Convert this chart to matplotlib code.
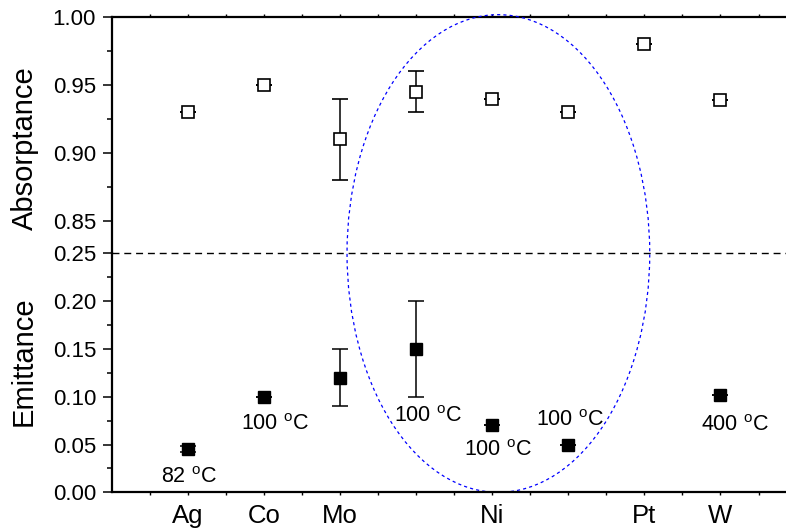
"""Absorptance / emittance broken-axis chart."""

import numpy as np
import matplotlib.pyplot as plt
from matplotlib.patches import Ellipse

plt.rcParams['font.family'] = 'Liberation Sans'
plt.rcParams['mathtext.fontset'] = 'custom'
plt.rcParams['mathtext.rm'] = 'Liberation Sans'

# Data
x_pos = [1, 2, 3, 4, 5, 6, 7, 8]
tick_labels = ['Ag', 'Co', 'Mo', '', 'Ni', '', 'Pt', 'W']
absorptance = [0.93, 0.95, 0.91, 0.945, 0.94, 0.93, 0.98, 0.939]
absorptance_err = [0, 0, 0.03, 0.015, 0, 0, 0, 0]
emittance = [0.045, 0.10, 0.12, 0.15, 0.07, 0.05, np.nan, 0.102]
emittance_err = [0.003, 0, 0.03, 0.05, 0, 0, 0, 0]

temp_labels = ['82', '100', '100', '100', '100', '400']
temp_x = [1.01, 2.14, 4.15, 5.075, 6.016, 8.19]
temp_y = [0.010, 0.0656, 0.0733, 0.0375, 0.0698, 0.0638]

fig = plt.figure(figsize=(7.86, 5.32), dpi=100)
left, right = 0.1425, 1.0134
bottom, mid, top = 0.0746, 0.5235, 0.968
ax_top = fig.add_axes([left, mid, right - left, top - mid])
ax_bot = fig.add_axes([left, bottom, right - left, mid - bottom])

for ax in (ax_top, ax_bot):
    ax.set_xlim(0, 9)
    ax.spines['right'].set_visible(False)
    for s in ax.spines.values():
        s.set_linewidth(1.6)
    ax.tick_params(axis='y', which='major', direction='out', length=6.5, width=1.1,
                   labelsize=16, pad=5)
    ax.tick_params(axis='y', which='minor', direction='out', length=3.5, width=1.1)
    ax.set_facecolor('none')

ax_top.spines['bottom'].set_visible(False)
ax_bot.spines['top'].set_visible(False)

# top panel: absorptance
ax_top.errorbar(x_pos, absorptance, yerr=absorptance_err, fmt='s', ms=9,
                mfc='white', mec='black', mew=1.2, ecolor='black', elinewidth=1.1,
                capsize=6, capthick=1.1)
ax_top.set_ylim(0.826, 1.00)
ax_top.set_yticks([0.85, 0.90, 0.95, 1.00])
ax_top.set_yticks([0.875, 0.925, 0.975], minor=True)
ax_top.yaxis.set_major_formatter(plt.FormatStrFormatter('%.2f'))
ax_top.set_xticks(x_pos)
ax_top.set_xticks(np.arange(0.5, 9, 1), minor=True)
ax_top.tick_params(axis='x', which='both', bottom=False, top=True, labelbottom=False,
                   direction='out', length=2.5, width=1.0)

# bottom panel: emittance
ax_bot.errorbar(x_pos, emittance, yerr=emittance_err, fmt='s', ms=9,
                mfc='black', mec='black', ecolor='black', elinewidth=1.1,
                capsize=6, capthick=1.1)
ax_bot.set_ylim(0, 0.25)
ax_bot.set_yticks([0.00, 0.05, 0.10, 0.15, 0.20, 0.25])
ax_bot.set_yticks([0.025, 0.075, 0.125, 0.175, 0.225], minor=True)
ax_bot.yaxis.set_major_formatter(plt.FormatStrFormatter('%.2f'))
ax_bot.set_xticks(x_pos)
ax_bot.set_xticklabels(tick_labels)
ax_bot.set_xticks(np.arange(0.5, 9, 1), minor=True)
ax_bot.tick_params(axis='x', which='both', direction='out', length=2.5, width=1.0,
                   labelsize=18.5, pad=6)

for t, tx, ty in zip(temp_labels, temp_x, temp_y):
    ax_bot.text(tx, ty, t + r' $^{\rm o}$C', ha='center', va='baseline', fontsize=15.5)

# break line
ax_bot.axhline(0.25, color='black', lw=1.0, ls=(0, (5, 3.5)), clip_on=False)

# highlight ellipse
ell = Ellipse((5.08, 0.25), 3.98, 0.5, fill=False, edgecolor='#0000ff', lw=0.9,
              ls=(0, (2.5, 2.5)), clip_on=False)
ax_bot.add_patch(ell)

fig.text(0.032, 0.722, 'Absorptance', rotation=90, ha='center', va='center', fontsize=21)
fig.text(0.030, 0.321, 'Emittance', rotation=90, ha='center', va='center', fontsize=21)

plt.savefig('out.png', dpi=100)
